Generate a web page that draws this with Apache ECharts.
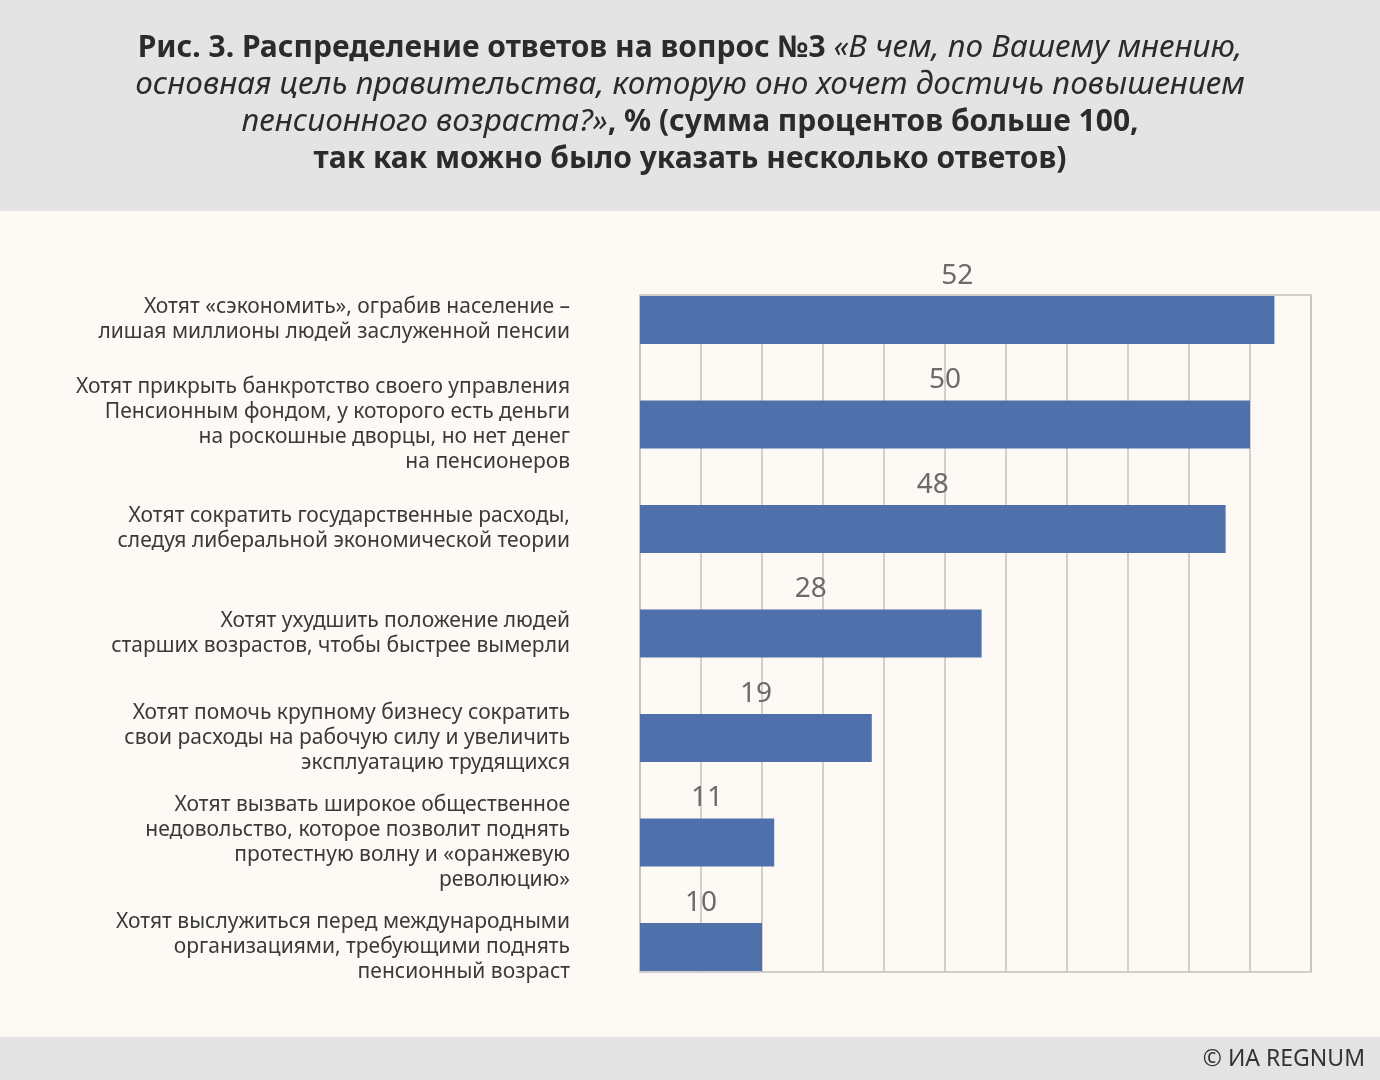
<!DOCTYPE html>
<html>
<head>
<meta charset="utf-8">
<script src="https://cdn.jsdelivr.net/npm/echarts@6/dist/echarts.min.js"></script>
<style>
html,body{margin:0;padding:0;background:#fdf9f5;}
#chart{width:1380px;height:1080px;}
</style>
</head>
<body>
<div id="chart"></div>
<script>
const categories = [
  'Хотят «сэкономить», ограбив население –\nлишая миллионы людей заслуженной пенсии',
  'Хотят прикрыть банкротство своего управления\nПенсионным фондом, у которого есть деньги\nна роскошные дворцы, но нет денег\nна пенсионеров',
  'Хотят сократить государственные расходы,\nследуя либеральной экономической теории',
  'Хотят ухудшить положение людей\nстарших возрастов, чтобы быстрее вымерли',
  'Хотят помочь крупному бизнесу сократить\nсвои расходы на рабочую силу и увеличить\nэксплуатацию трудящихся',
  'Хотят вызвать широкое общественное\nнедовольство, которое позволит поднять\nпротестную волну и «оранжевую\nреволюцию»',
  'Хотят выслужиться перед международными\nорганизациями, требующими поднять\nпенсионный возраст'
];
const values = [52, 50, 48, 28, 19, 11, 10];
const axisMax = 55;
const axisInterval = 5;

const FONT = 'Noto Sans';
const chart = echarts.init(document.getElementById('chart'), null, {renderer: 'canvas'});
chart.setOption({
  backgroundColor: '#fdf9f5',
  animation: false,
  title: {
    left: 'center',
    top: 30,
    padding: 0,
    text: '{b|Рис. 3. Распределение ответов на вопрос №3 }{i|«В чем, по Вашему мнению,}\n' +
          '{i|основная цель правительства, которую оно хочет достичь повышением}\n' +
          '{i|пенсионного возраста?»}{b|, % (сумма процентов больше 100,}\n' +
          '{b|так как можно было указать несколько ответов)}',
    textStyle: {
      fontFamily: FONT,
      fontSize: 30,
      fontWeight: 'normal',
      lineHeight: 37,
      color: '#2b2b2b',
      align: 'center',
      rich: {
        b: {fontFamily: FONT, fontSize: 30, fontWeight: 'bold', color: '#2b2b2b', lineHeight: 37},
        i: {fontFamily: FONT, fontSize: 31.5, fontWeight: 'normal', fontStyle: 'italic', color: '#2b2b2b', lineHeight: 37}
      }
    }
  },
  graphic: [
    {type: 'rect', z: -10, shape: {x: 0, y: 0, width: 1380, height: 211}, style: {fill: '#e4e4e4'}},
    {type: 'rect', z: -10, shape: {x: 0, y: 1037, width: 1380, height: 43}, style: {fill: '#e3e3e3'}},
    {type: 'text', right: 15, top: 1048, style: {text: '© ИА REGNUM', fontFamily: FONT, fontSize: 23, fill: '#333333'}}
  ],
  grid: [
    {left: 640, right: 69, top: 320, bottom: 133, containLabel: false},
    {left: 640, right: 69, top: 295, bottom: 108, show: true, backgroundColor: 'transparent', borderColor: '#c4c0bc', borderWidth: 1.5}
  ],
  xAxis: [
    {gridIndex: 0, type: 'value', min: 0, max: axisMax, interval: axisInterval, show: false},
    {gridIndex: 1, type: 'value', min: 0, max: axisMax, interval: axisInterval,
     axisLine: {show: false}, axisTick: {show: false}, axisLabel: {show: false},
     splitLine: {show: true, lineStyle: {color: '#c4c0bc', width: 1.5}}}
  ],
  yAxis: [
    {gridIndex: 0, type: 'category', data: categories, inverse: true, boundaryGap: false,
     axisLine: {show: false}, axisTick: {show: false}, splitLine: {show: false},
     axisLabel: {margin: 70, align: 'right', fontFamily: FONT, fontSize: 21, lineHeight: 25, color: '#3a3a3a'}},
    {gridIndex: 1, type: 'value', show: false, min: 0, max: 1}
  ],
  series: [{
    type: 'bar',
    xAxisIndex: 0,
    yAxisIndex: 0,
    data: values,
    barWidth: 48,
    clip: false,
    z: 5,
    itemStyle: {color: '#4f70aa'},
    label: {show: true, position: 'top', distance: 6, fontFamily: FONT, fontSize: 28, color: '#6b6b6b'}
  }]
});
</script>
</body>
</html>
